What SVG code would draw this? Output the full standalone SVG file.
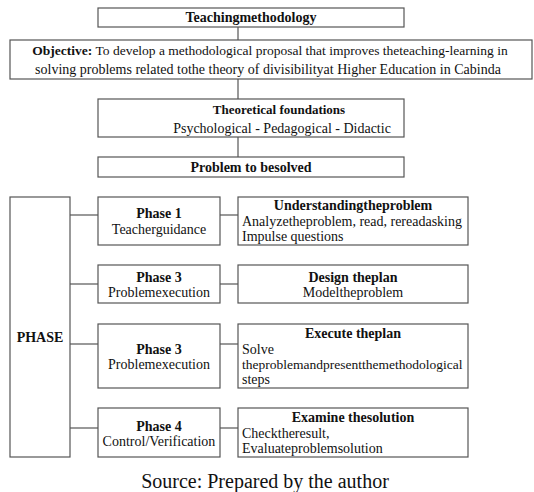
<svg xmlns="http://www.w3.org/2000/svg" width="534" height="492" viewBox="0 0 534 492">
<style>
rect{fill:#fff;stroke:#555;stroke-width:1.2}
.c line,.c path{stroke:#555;stroke-width:1.2;fill:none}
text{font-family:"Liberation Serif","Times New Roman",serif;font-size:14px;fill:#111}
.b{font-weight:bold}
.m{text-anchor:middle}
</style>
<rect width="534" height="492" style="stroke:none"/>
<g class="c" id="connectors">
<line x1="238" y1="27" x2="238" y2="40"/>
<line x1="238" y1="79" x2="238" y2="99"/>
<line x1="238" y1="137" x2="238" y2="157"/>
<line x1="70" y1="215" x2="98" y2="215"/>
<line x1="70" y1="284" x2="98" y2="284"/>
<line x1="70" y1="344" x2="98" y2="344"/>
<line x1="70" y1="428" x2="98" y2="428"/>
<line x1="220" y1="215" x2="238" y2="215"/>
<line x1="220" y1="284" x2="238" y2="284"/>
<line x1="220" y1="344" x2="238" y2="344"/>
<line x1="220" y1="428" x2="238" y2="428"/>
</g>
<g id="n-teaching"><rect x="98" y="8" width="306" height="19"/><text class="b m" x="251" y="22">Teachingmethodology</text></g>
<g id="n-objective"><rect x="10" y="40" width="522" height="39"/>
<text class="m" x="270" y="55" style="font-size:13.5px"><tspan class="b">Objective:</tspan> To develop a methodological proposal that improves theteaching-learning in</text>
<text class="m" x="268" y="74">solving problems related tothe theory of divisibilityat Higher Education in Cabinda</text></g>
<g id="n-foundations"><rect x="98" y="99" width="306" height="38"/>
<text class="b m" x="279" y="114" style="font-size:13px">Theoretical foundations</text>
<text class="m" x="282" y="133">Psychological - Pedagogical - Didactic</text></g>
<g id="n-problem"><rect x="98" y="157" width="306" height="20"/><text class="b m" x="251" y="172">Problem to besolved</text></g>
<g id="n-phase"><rect x="10" y="197" width="60" height="260"/><text class="b m" x="40" y="342">PHASE</text></g>
<g id="n-p1"><rect x="98" y="197" width="122" height="48"/>
<text class="b m" x="159" y="218">Phase 1</text><text class="m" x="159" y="234">Teacherguidance</text></g>
<g id="n-r1"><rect x="238" y="197" width="230" height="48"/>
<text class="b m" x="353" y="210">Understandingtheproblem</text>
<text x="242" y="226">Analyzetheproblem, read, rereadasking</text>
<text x="242" y="241">Impulse questions</text></g>
<g id="n-p2"><rect x="98" y="265" width="122" height="38"/>
<text class="b m" x="159" y="282">Phase 3</text><text class="m" x="159" y="297">Problemexecution</text></g>
<g id="n-r2"><rect x="238" y="265" width="230" height="38"/>
<text class="b m" x="353" y="282">Design theplan</text><text class="m" x="353" y="297">Modeltheproblem</text></g>
<g id="n-p3"><rect x="98" y="324" width="122" height="64"/>
<text class="b m" x="159" y="354">Phase 3</text><text class="m" x="159" y="369">Problemexecution</text></g>
<g id="n-r3"><rect x="238" y="324" width="230" height="64"/>
<text class="b m" x="353" y="338">Execute theplan</text>
<text x="242" y="354">Solve</text>
<text x="242" y="369" style="font-size:13.5px">theproblemandpresentthemethodological</text>
<text x="242" y="384">steps</text></g>
<g id="n-p4"><rect x="98" y="408" width="122" height="49"/>
<text class="b m" x="159" y="431">Phase 4</text><text class="m" x="159" y="446">Control/Verification</text></g>
<g id="n-r4"><rect x="238" y="408" width="230" height="49"/>
<text class="b m" x="353" y="422">Examine thesolution</text>
<text x="242" y="438">Checktheresult,</text>
<text x="242" y="453">Evaluateproblemsolution</text></g>
<text class="m" x="265" y="488" style="font-size:20px">Source: Prepared by the author</text>
</svg>
